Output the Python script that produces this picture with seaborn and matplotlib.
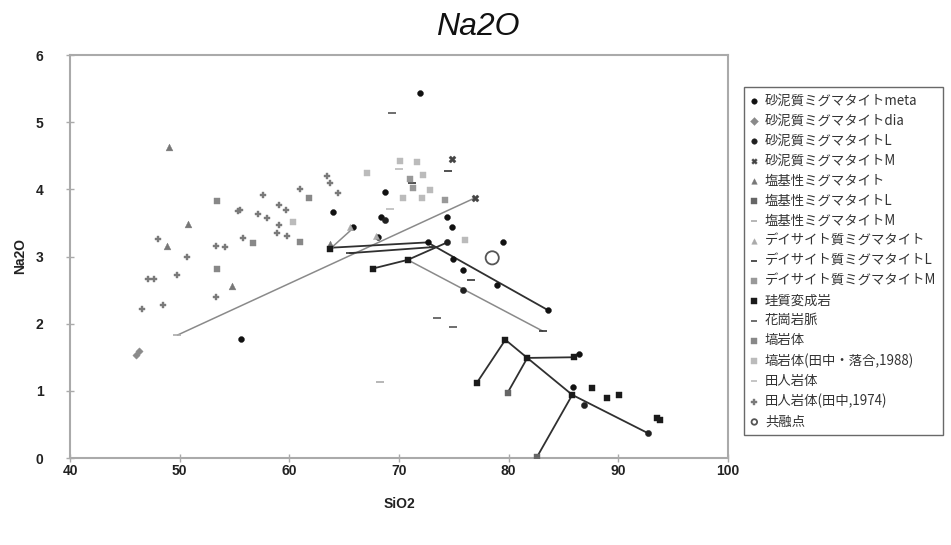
import matplotlib
matplotlib.use("Agg")
import matplotlib.pyplot as plt
import seaborn as sns
import pandas as pd

# ---------------- data ----------------
series_names = [
    "砂泥質ミグマタイトmeta", "砂泥質ミグマタイトdia", "砂泥質ミグマタイトL", "砂泥質ミグマタイトM",
    "塩基性ミグマタイト", "塩基性ミグマタイトL", "塩基性ミグマタイトM",
    "デイサイト質ミグマタイト", "デイサイト質ミグマタイトL", "デイサイト質ミグマタイトM",
    "珪質変成岩", "花崗岩脈", "塙岩体", "塙岩体(田中・落合,1988)", "田人岩体", "田人岩体(田中,1974)", "共融点",
]

meta_x = [71.9, 64.0, 68.7, 74.4, 74.8, 68.4, 65.8, 68.1, 55.6, 79.5, 74.9, 75.8, 78.9, 83.6, 72.6, 85.9, 86.4]
meta_y = [5.43, 3.66, 3.96, 3.59, 3.44, 3.59, 3.44, 3.29, 1.77, 3.21, 2.97, 2.80, 2.57, 2.20, 3.21, 1.06, 1.55]
dia_x = [46.0, 46.3]
dia_y = [1.53, 1.60]
pL_x = [68.7, 75.8, 74.4, 92.7, 86.9]
pL_y = [3.54, 2.50, 3.21, 0.37, 0.79]
pM_x = [74.8, 76.9]
pM_y = [4.45, 3.87]
bas_x = [49.0, 50.8, 48.8, 54.8, 63.7]
bas_y = [4.63, 3.48, 3.15, 2.56, 3.18]
basL_x = [79.9, 82.6]
basL_y = [0.97, 0.02]
basM_x = [49.8, 68.3]
basM_y = [1.83, 1.13]
dac_x = [65.5, 67.9]
dac_y = [3.44, 3.30]
dacL_x = [74.5, 71.2, 76.6, 83.1, 65.5, 73.1]
dacL_y = [4.27, 4.10, 2.65, 1.89, 3.05, 3.14]
dacM_x = [71.3, 74.2, 71.0]
dacM_y = [4.02, 3.84, 4.15]
sil_x = [67.6, 63.7, 70.8, 79.7, 77.1, 81.7, 86.0, 85.8, 87.6, 89.0, 90.1, 93.5, 93.8]
sil_y = [2.82, 3.11, 2.95, 1.76, 1.12, 1.49, 1.50, 0.94, 1.04, 0.90, 0.94, 0.60, 0.57]
gran_x = [69.4, 73.5, 74.9]
gran_y = [5.13, 2.08, 1.95]
han_x = [53.4, 53.4, 56.7, 61.8, 61.0]
han_y = [3.82, 2.82, 3.20, 3.87, 3.22]
han88_x = [60.3, 67.1, 70.1, 71.6, 72.2, 72.8, 72.1, 70.4, 76.0]
han88_y = [3.52, 4.24, 4.42, 4.40, 4.22, 3.99, 3.87, 3.87, 3.24]
tab_x = [70.0, 69.2]
tab_y = [4.30, 3.70]
tab74_x = [55.3, 48.0, 53.3, 54.1, 55.8, 50.7, 49.8, 47.1, 47.7, 53.3, 46.6, 48.5,
           57.6, 59.1, 59.7, 57.1, 58.0, 59.1, 58.9, 59.8, 61.0, 63.4, 63.7, 64.4, 55.5]
tab74_y = [3.68, 3.26, 3.15, 3.14, 3.27, 2.99, 2.72, 2.66, 2.66, 2.40, 2.22, 2.28,
           3.91, 3.76, 3.69, 3.64, 3.57, 3.47, 3.35, 3.30, 4.00, 4.20, 4.09, 3.94, 3.69]
eut_x = [78.5]
eut_y = [2.98]

# tie lines (data)
tie_gray_1_x = [49.8, 76.9]
tie_gray_1_y = [1.83, 3.87]
tie_gray_2_x = [70.8, 83.1]
tie_gray_2_y = [2.95, 1.89]
tie_gray_3_x = [63.7, 65.8]
tie_gray_3_y = [3.11, 3.42]
tie_blk_1_x = [63.7, 72.6, 83.6]
tie_blk_1_y = [3.13, 3.21, 2.20]
tie_blk_2_x = [65.5, 73.1]
tie_blk_2_y = [3.05, 3.14]
tie_blk_3_x = [67.6, 70.8, 74.4]
tie_blk_3_y = [2.82, 2.95, 3.21]
tie_blk_4_x = [77.1, 79.7, 81.7, 85.8, 92.7]
tie_blk_4_y = [1.12, 1.76, 1.49, 0.94, 0.37]
tie_blk_5_x = [81.7, 86.0]
tie_blk_5_y = [1.49, 1.50]
tie_blk_6_x = [81.7, 79.9]
tie_blk_6_y = [1.49, 0.97]
tie_blk_7_x = [85.8, 82.6]
tie_blk_7_y = [0.94, 0.02]

x_ticks = [40, 50, 60, 70, 80, 90, 100]
y_ticks = [0, 1, 2, 3, 4, 5, 6]

# ---------------- styling ----------------
sns.set_theme(style="white")
plt.rcParams['font.family'] = ['Liberation Sans', 'Noto Sans CJK JP', 'DejaVu Sans']

fig = plt.figure(figsize=(9.51, 5.45), dpi=100)
ax = fig.add_axes([70/951, 1-458/545, (728-70)/951, (458-55)/545])

# tie lines
for lx, ly in [(tie_gray_1_x, tie_gray_1_y), (tie_gray_2_x, tie_gray_2_y), (tie_gray_3_x, tie_gray_3_y)]:
    ax.plot(lx, ly, color="#8a8a8a", lw=1.1, zorder=1)
for lx, ly in [(tie_blk_1_x, tie_blk_1_y), (tie_blk_2_x, tie_blk_2_y), (tie_blk_3_x, tie_blk_3_y),
               (tie_blk_4_x, tie_blk_4_y), (tie_blk_5_x, tie_blk_5_y), (tie_blk_6_x, tie_blk_6_y),
               (tie_blk_7_x, tie_blk_7_y)]:
    ax.plot(lx, ly, color="#303030", lw=1.3, zorder=1)

styles = [
    (meta_x, meta_y, "o", "#111111", 18, None),
    (dia_x, dia_y, "D", "#8a8a8a", 14, None),
    (pL_x, pL_y, "o", "#202020", 20, None),
    (pM_x, pM_y, "X", "#444444", 26, None),
    (bas_x, bas_y, "^", "#777777", 24, None),
    (basL_x, basL_y, "s", "#666666", 20, None),
    (basM_x, basM_y, "_", "#aaaaaa", 30, None),
    (dac_x, dac_y, "^", "#aaaaaa", 20, None),
    (dacL_x, dacL_y, "_", "#333333", 40, None),
    (dacM_x, dacM_y, "s", "#999999", 20, None),
    (sil_x, sil_y, "s", "#1a1a1a", 20, None),
    (gran_x, gran_y, "_", "#555555", 40, None),
    (han_x, han_y, "s", "#888888", 20, None),
    (han88_x, han88_y, "s", "#bbbbbb", 20, None),
    (tab_x, tab_y, "_", "#bbbbbb", 30, None),
    (tab74_x, tab74_y, "P", "#7a7a7a", 22, None),
    (eut_x, eut_y, "o", "none", 90, "#555555"),
]

for name, (sx, sy, mk, col, sz, ec) in zip(series_names, styles):
    df = pd.DataFrame({"SiO2": sx, "Na2O": sy})
    if ec is None:
        sns.scatterplot(data=df, x="SiO2", y="Na2O", marker=mk, color=col, s=sz,
                        edgecolor=col if mk not in ("_", "|") else None, linewidth=1.2 if mk == "_" else 0.3,
                        ax=ax, label=name, zorder=3)
    else:
        sns.scatterplot(data=df, x="SiO2", y="Na2O", marker=mk, facecolor="none", edgecolor=ec,
                        s=sz, linewidth=1.3, ax=ax, label=name, zorder=3)

ax.set_xlim(40, 100)
ax.set_ylim(0, 6)
ax.set_xticks(x_ticks)
ax.set_yticks(y_ticks)
ax.set_xticklabels([str(t) for t in x_ticks], fontsize=10, fontweight="bold", color="#222222")
ax.set_yticklabels([str(t) for t in y_ticks], fontsize=10, fontweight="bold", color="#222222")
ax.tick_params(axis="y", direction="inout", length=6, width=1, color="#aaaaaa", pad=16, left=True)
ax.tick_params(axis="x", direction="inout", length=6, width=1, color="#aaaaaa", pad=1, bottom=True)
for sp in ax.spines.values():
    sp.set_color("#aaaaaa")
    sp.set_linewidth(1.5)

ax.set_xlabel("SiO2", fontsize=10, fontweight="bold", color="#222222", labelpad=14)
ax.set_ylabel("Na2O", fontsize=10, fontweight="bold", color="#222222", labelpad=6)
fig.text(478/951, 1-27/545, "Na2O", ha="center", va="center", fontsize=23, style="italic",
         family="Liberation Sans", color="#111111")

leg = ax.legend(loc="upper left", bbox_to_anchor=(737/951, 1-80/545), bbox_transform=fig.transFigure,
                prop={"family": ["Noto Sans CJK JP", "DejaVu Sans"], "size": 9.6},
                labelspacing=0.45, handlelength=0.6, handletextpad=0.5, borderpad=0.5,
                frameon=True, fancybox=False, shadow=False)
leg.get_frame().set_edgecolor("#444444")
leg.get_frame().set_linewidth(1.0)
for h in leg.legend_handles:
    try:
        h.set_sizes([16])
    except Exception:
        pass
for t in leg.get_texts():
    t.set_color("#333333")

fig.savefig("out.png", dpi=100)
